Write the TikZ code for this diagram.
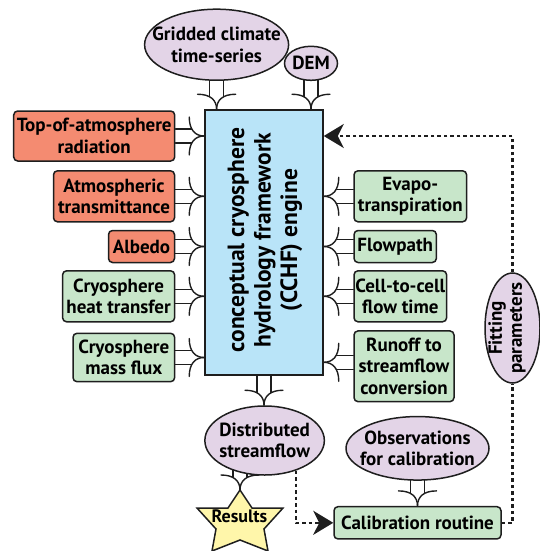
\documentclass[tikz,border=0pt]{standalone}
\usepackage{fontspec}
\setmainfont{PT Sans}
\usetikzlibrary{arrows.meta,calc,backgrounds,shapes.geometric}
\definecolor{ink}{RGB}{30,30,30}
\definecolor{salmon}{RGB}{244,139,113}
\definecolor{mint}{RGB}{200,230,202}
\definecolor{lilac}{RGB}{227,212,231}
\definecolor{sky}{RGB}{185,228,248}
\definecolor{butter}{RGB}{255,246,170}
\tikzset{
  txt/.style={inner sep=0pt, align=center, font=\bfseries\fontsize{19}{21.5}\selectfont},
  base/.style={txt, draw=ink, line width=1.5pt},
  rbox/.style={base, rectangle, rounded corners=4pt},
  hot/.style={rbox, fill=salmon},
  cool/.style={rbox, fill=mint},
  oval/.style={base, ellipse, fill=lilac},
  forkline/.style={draw=ink, line width=1.4pt, line cap=round, line join=round},
  dotline/.style={draw=ink, line width=2.2pt, dash pattern=on 3.5pt off 3pt},
  bigtip/.style={-{Stealth[length=20pt,width=24pt,inset=6pt]}},
}
\newcommand\forkconn[3]{%
  \coordinate (fA) at #1;
  \coordinate (fB) at #2;
  \path let \p1=(fA), \p2=(fB), \n1={veclen(\x2-\x1,\y2-\y1)} in \pgfextra{\xdef\forklen{\n1}};
  \begin{scope}[shift={(fB)}, rotate=#3]
    \draw[forkline] (0pt,0pt) .. controls (-9pt,0pt) and (-15pt,6pt) .. (-15pt,19pt);
    \draw[forkline] (0pt,0pt) .. controls (-9pt,0pt) and (-15pt,-6pt) .. (-15pt,-19pt);
    \draw[forkline] (-\forklen,7pt) -- (-12.5pt,7pt);
    \draw[forkline] (-\forklen,-7pt) -- (-12.5pt,-7pt);
  \end{scope}}
\begin{document}
\begin{tikzpicture}[x=1pt,y=1pt]
\useasboundingbox (0,0) rectangle (540,-551);
% engine
\node[base, rectangle, fill=sky, minimum width=118pt, minimum height=265pt] (engine) at (264,-242.5) {};
\node[rotate=90, align=center, font=\bfseries\fontsize{23.5}{26.5}\selectfont] (enginetext) at (265,-240) {conceptual cryosphere\\hydrology framework\\(CCHF) engine};
% top inputs
\node[oval, minimum width=144pt, minimum height=71pt] (grid) at (216.6,-44.7) {};
\node[txt] (gridtext) at (grid) {Gridded climate\\time-series};
\node[oval, minimum width=53pt, minimum height=34pt] (dem) at (311,-63.3) {};
\node[txt] (demtext) at (dem) {DEM};
% left boxes
\node[hot, minimum width=161pt, minimum height=50pt] (toa) at (94.2,-136) {Top-of-atmosphere\\radiation};
\node[hot, minimum width=121pt, minimum height=51pt] (atm) at (114,-196.3) {Atmospheric\\transmittance};
\node[hot, minimum width=66pt, minimum height=32pt] (alb) at (141.5,-246.5) {Albedo};
\node[cool, minimum width=112pt, minimum height=51pt] (heat) at (118.6,-296.3) {Cryosphere\\heat transfer};
\node[cool, minimum width=101.6pt, minimum height=48.4pt] (mass) at (123.8,-357.5) {Cryosphere\\mass flux};
% right boxes
\node[cool, minimum width=112.6pt, minimum height=51pt] (evap) at (410.3,-196.3) {Evapo-\\transpiration};
\node[cool, minimum width=82.3pt, minimum height=32pt] (flow) at (395.2,-246.5) {Flowpath};
\node[cool, minimum width=92.6pt, minimum height=51pt] (cell) at (400.3,-296.3) {Cell-to-cell\\flow time};
\node[cool, minimum width=100pt, minimum height=70.7pt] (runoff) at (404,-366.3) {Runoff to\\streamflow\\conversion};
% bottom
\node[oval, minimum width=119.5pt, minimum height=69pt] (dist) at (264.6,-440.5) {};
\node[txt] (disttext) at (dist) {Distributed\\streamflow};
\node[oval, minimum width=143pt, minimum height=63.5pt] (obs) at (417.5,-448.3) {};
\node[txt] (obstext) at (obs) {Observations\\for calibration};
\node[cool, minimum width=167pt, minimum height=32.3pt] (calib) at (417.5,-522.8) {Calibration routine};
\node[oval, minimum width=55pt, minimum height=110pt] (fit) at (512.5,-328) {};
\node[rotate=90, align=center, font=\bfseries\fontsize{19}{20}\selectfont] (fittext) at (507,-328) {Fitting\\parameters};
% star
\draw[draw=ink, line width=1.5pt, fill=butter, line join=miter]
  (240,-490) -- (252,-508) -- (283,-508) -- (264,-529) -- (268,-551) -- (240,-540)
  -- (212,-551) -- (216,-529) -- (197,-508) -- (228,-508) -- cycle;
\coordinate (startop) at (240,-490);
\node[font=\bfseries\fontsize{18}{20}\selectfont, inner sep=0pt] (res) at (239.5,-516) {Results};
% fork connectors
\begin{pgfonlayer}{background}
\forkconn{(grid.center)}{(grid.center |- engine.north)}{-90}
\forkconn{(dem.center)}{(dem.center |- engine.north)}{-90}
\forkconn{(toa.east)}{(toa.east -| engine.west)}{0}
\forkconn{(atm.east)}{(atm.east -| engine.west)}{0}
\forkconn{(alb.east)}{(alb.east -| engine.west)}{0}
\forkconn{(heat.east)}{(heat.east -| engine.west)}{0}
\forkconn{(mass.east)}{(mass.east -| engine.west)}{0}
\forkconn{(evap.west)}{(evap.west -| engine.east)}{180}
\forkconn{(flow.west)}{(flow.west -| engine.east)}{180}
\forkconn{(cell.west)}{(cell.west -| engine.east)}{180}
\forkconn{([yshift=4pt]runoff.west)}{([yshift=4pt]runoff.west -| engine.east)}{180}
\forkconn{(engine.south)}{(engine.south |- dist.north)}{-90}
\forkconn{(dist.center -| startop)}{(startop)}{-90}
\forkconn{(obs.center)}{(obs.center |- calib.north)}{-90}
\end{pgfonlayer}
% dotted links
\draw[dotline, bigtip] (dist.-44) |- (calib.west);
\draw[dotline] (calib.east) -| (fit.south);
\draw[dotline, bigtip] (fit.north) |- (toa.east -| engine.east);
\end{tikzpicture}
\end{document}
